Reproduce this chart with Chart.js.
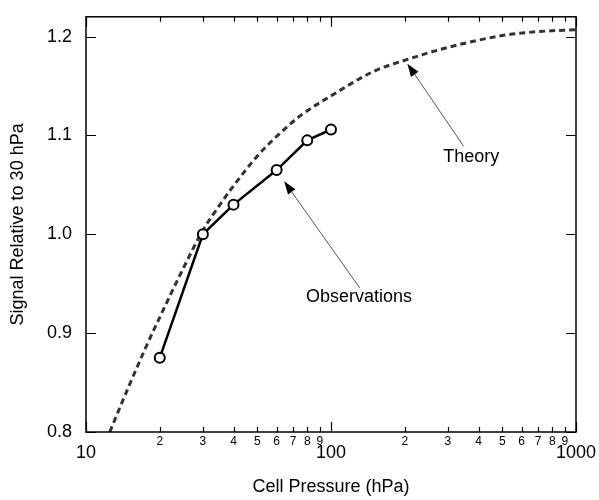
<!DOCTYPE html>
<html>
<head>
<meta charset="utf-8">
<script src="https://cdn.jsdelivr.net/npm/chart.js@4/dist/chart.umd.min.js"></script>
<style>
  html, body { margin: 0; padding: 0; background: #fff; }
  #wrap { width: 599px; height: 500px; position: relative; }
</style>
</head>
<body>
<div id="wrap"><canvas id="c"></canvas></div>
<script>
// ---- Data ----
const pressureObs = [20, 30, 40, 60, 80, 100];
const signalObs = [0.875, 1.000, 1.030, 1.065, 1.095, 1.106];

const pressureTheory = [12.5, 15, 17.5, 20, 25, 30, 35, 40, 50, 60, 75, 100, 150, 200, 300, 500, 700, 1000];
const signalTheory = [0.800, 0.847, 0.885, 0.916, 0.966, 1.004, 1.029, 1.049, 1.079, 1.099, 1.120, 1.140, 1.165, 1.176, 1.189, 1.201, 1.205, 1.207];

const xTickValues = [10, 20, 30, 40, 50, 60, 70, 80, 90, 100, 200, 300, 400, 500, 600, 700, 800, 900, 1000];
const yTickValues = [0.8, 0.9, 1.0, 1.1, 1.2];

// annotations (data units)
const annotationLabels = ['Theory', 'Observations'];
const annotationTextX = [374, 130];
const annotationTextY = [1.078, 0.937];
const arrowTipX = [205, 64.4];
const arrowTipY = [1.1726, 1.0536];
const arrowTailX = [348, 131];
const arrowTailY = [1.0891, 0.9457];

const FONT = "'Liberation Sans', Arial, Helvetica, sans-serif";

function isMajor(v) {
  const e = Math.round(Math.log10(v));
  return Math.abs(v - Math.pow(10, e)) < 1e-6 * v;
}
function mantissa(v) {
  const e = Math.floor(Math.log10(v) + 1e-9);
  return Math.round(v / Math.pow(10, e));
}

const framePlugin = {
  id: 'frame',
  afterDraw(chart) {
    const ctx = chart.ctx;
    const a = chart.chartArea;
    const xs = chart.scales.x, ys = chart.scales.y;
    ctx.save();
    ctx.strokeStyle = '#000';
    ctx.lineWidth = 1.5;
    ctx.strokeRect(a.left, a.top, a.right - a.left, a.bottom - a.top);
    ctx.lineWidth = 1.2;
    ctx.beginPath();
    xs.ticks.forEach(t => {
      const px = Math.round(xs.getPixelForValue(t.value)) + 0.5;
      const len = isMajor(t.value) ? 10 : 5;
      ctx.moveTo(px, a.bottom); ctx.lineTo(px, a.bottom - len);
      ctx.moveTo(px, a.top); ctx.lineTo(px, a.top + len);
    });
    ys.ticks.forEach(t => {
      const py = Math.round(ys.getPixelForValue(t.value)) + 0.5;
      ctx.moveTo(a.left, py); ctx.lineTo(a.left + 10, py);
      ctx.moveTo(a.right, py); ctx.lineTo(a.right - 10, py);
    });
    ctx.stroke();

    // annotations
    for (let i = 0; i < annotationLabels.length; i++) {
      const tx = xs.getPixelForValue(arrowTipX[i]);
      const ty = ys.getPixelForValue(arrowTipY[i]);
      const sx = xs.getPixelForValue(arrowTailX[i]);
      const sy = ys.getPixelForValue(arrowTailY[i]);
      const ang = Math.atan2(ty - sy, tx - sx);
      const headLen = 13, headW = 4.5;
      const bx = tx - headLen * Math.cos(ang), by = ty - headLen * Math.sin(ang);
      ctx.strokeStyle = '#555';
      ctx.lineWidth = 1;
      ctx.beginPath();
      ctx.moveTo(sx, sy); ctx.lineTo(bx, by);
      ctx.stroke();
      ctx.fillStyle = '#000';
      ctx.beginPath();
      ctx.moveTo(tx, ty);
      ctx.lineTo(bx + headW * Math.sin(ang), by - headW * Math.cos(ang));
      ctx.lineTo(bx - headW * Math.sin(ang), by + headW * Math.cos(ang));
      ctx.closePath();
      ctx.fill();

      ctx.fillStyle = '#000';
      ctx.font = '18px ' + FONT;
      ctx.textAlign = 'center';
      ctx.textBaseline = 'middle';
      ctx.fillText(annotationLabels[i],
        xs.getPixelForValue(annotationTextX[i]),
        ys.getPixelForValue(annotationTextY[i]));
    }
    ctx.restore();
  }
};

new Chart(document.getElementById('c'), {
  type: 'line',
  data: {
    datasets: [
      {
        label: 'Observations',
        data: pressureObs.map((p, i) => ({ x: p, y: signalObs[i] })),
        borderColor: '#000',
        borderWidth: 2.5,
        pointRadius: 5,
        pointBorderWidth: 2,
        pointBorderColor: '#000',
        pointBackgroundColor: '#fff',
        tension: 0
      },
      {
        label: 'Theory',
        data: pressureTheory.map((p, i) => ({ x: p, y: signalTheory[i] })),
        borderColor: '#333',
        borderWidth: 3,
        borderDash: [6, 4],
        pointRadius: 0,
        cubicInterpolationMode: 'monotone'
      }
    ]
  },
  options: {
    responsive: true,
    maintainAspectRatio: false,
    animation: false,
    devicePixelRatio: 1,
    layout: { padding: { top: 14, right: 23, left: 0, bottom: 0 } },
    plugins: { legend: { display: false }, tooltip: { enabled: false } },
    scales: {
      x: {
        type: 'logarithmic',
        min: 10,
        max: 1000,
        grid: { display: false },
        border: { display: false },
        afterFit(scale) { scale.height = 68; },
        afterBuildTicks(scale) { scale.ticks = xTickValues.map(v => ({ value: v, major: isMajor(v) })); },
        ticks: {
          autoSkip: false,
          maxRotation: 0,
          padding: 0,
          color: '#000',
          callback: (v) => isMajor(v) ? ['', String(Math.round(v))] : String(mantissa(v)),
          font: (ctx) => {
            const v = ctx.tick ? ctx.tick.value : 10;
            return isMajor(v)
              ? { family: FONT, size: 18, lineHeight: 0.5 }
              : { family: FONT, size: 12, lineHeight: 0.3 };
          }
        },
        title: {
          display: true,
          text: 'Cell Pressure (hPa)',
          color: '#000',
          font: { family: FONT, size: 18 },
          padding: { top: 4, bottom: 2 }
        }
      },
      y: {
        type: 'linear',
        min: 0.8,
        max: 1.22,
        grid: { display: false },
        border: { display: false },
        afterFit(scale) { scale.width = 86; },
        afterBuildTicks(scale) { scale.ticks = yTickValues.map(v => ({ value: v })); },
        ticks: {
          padding: 6,
          color: '#000',
          font: { family: FONT, size: 18 },
          callback: (v) => Number(v).toFixed(1)
        },
        title: {
          display: true,
          text: 'Signal Relative to 30 hPa',
          color: '#000',
          font: { family: FONT, size: 18 },
          padding: { top: 7, bottom: 4 }
        }
      }
    }
  },
  plugins: [framePlugin]
});
</script>
</body>
</html>
